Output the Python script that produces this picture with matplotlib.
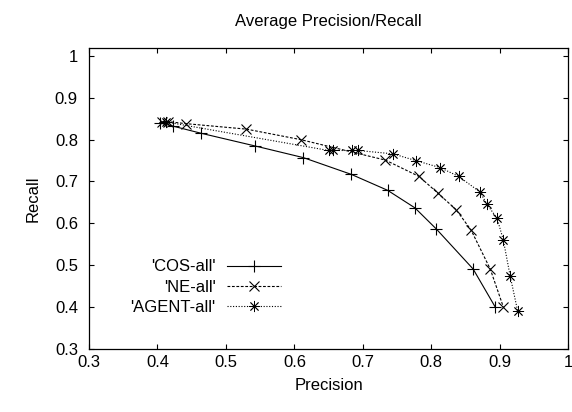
import matplotlib
matplotlib.use("Agg")
import matplotlib.pyplot as plt

plt.rcParams['font.family'] = ['Liberation Sans', 'DejaVu Sans']

# precision / recall pairs
cos_precision = [0.403, 0.423, 0.464, 0.542, 0.613, 0.683, 0.736, 0.776, 0.807, 0.861, 0.893]
cos_recall = [0.840, 0.832, 0.815, 0.785, 0.757, 0.717, 0.679, 0.637, 0.587, 0.491, 0.401]

ne_precision = [0.407, 0.415, 0.442, 0.530, 0.609, 0.733, 0.782, 0.809, 0.836, 0.858, 0.886, 0.905]
ne_recall = [0.843, 0.843, 0.838, 0.825, 0.800, 0.751, 0.712, 0.673, 0.633, 0.584, 0.491, 0.401]

agent_precision = [0.413, 0.650, 0.656, 0.684, 0.693, 0.744, 0.777, 0.813, 0.840,
                   0.871, 0.881, 0.896, 0.905, 0.915, 0.926]
agent_recall = [0.842, 0.774, 0.774, 0.774, 0.774, 0.766, 0.750, 0.733, 0.712,
                0.675, 0.646, 0.612, 0.561, 0.475, 0.391]

x_ticks = [0.3, 0.4, 0.5, 0.6, 0.7, 0.8, 0.9, 1]
y_ticks = [0.3, 0.4, 0.5, 0.6, 0.7, 0.8, 0.9, 1]
tick_labels = ["0.3", "0.4", "0.5", "0.6", "0.7", "0.8", "0.9", "1"]

fig = plt.figure(figsize=(5.72, 4.12), dpi=100)
ax = fig.add_axes([89 / 572, 1 - 349 / 412, (568.3 - 89) / 572, (349 - 48.3) / 412])

ax.plot(cos_precision, cos_recall, color='black', lw=0.8, ls='-',
        marker='+', ms=8, mew=0.8, label="'COS-all'")
ax.plot(ne_precision, ne_recall, color='black', lw=0.8, ls=(0, (2.5, 1.5)),
        marker='x', ms=7, mew=0.8, label="'NE-all'")
ax.plot(agent_precision, agent_recall, color='black', lw=0.8, ls=(0, (1, 1.5)),
        marker=(8, 2, 0), ms=8, mew=0.6, label="'AGENT-all'")

ax.set_xlim(0.3, 1.0)
ax.set_ylim(0.3, 1.018)
ax.set_xticks(x_ticks)
ax.set_xticklabels(tick_labels)
ax.set_yticks(y_ticks)
ax.set_yticklabels(tick_labels)
ax.tick_params(direction='in', length=3.5, width=0.8, top=True, right=True, labelsize=12)
ax.tick_params(axis='x', pad=4)
ax.tick_params(axis='y', pad=8)
for s in ax.spines.values():
    s.set_linewidth(0.9)

ax.set_xlabel("Precision", fontsize=12, labelpad=6)
ax.set_ylabel("Recall", fontsize=12, labelpad=10)
ax.set_title("Average Precision/Recall", fontsize=12, pad=16)

ax.legend(loc='lower right', bbox_to_anchor=(0.40, 0.113), frameon=False,
          markerfirst=False, fontsize=12, handlelength=3.2, handletextpad=0.7,
          labelspacing=0.32, borderpad=0, borderaxespad=0)

fig.savefig("out.png", dpi=100)
